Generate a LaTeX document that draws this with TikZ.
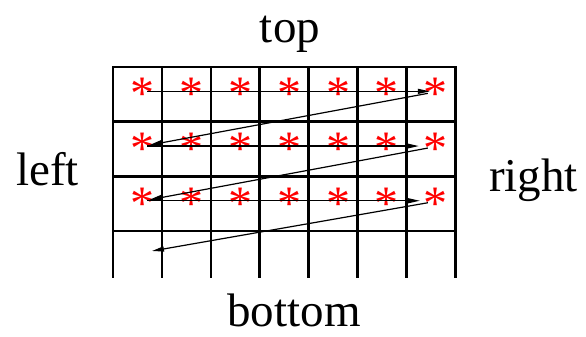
\documentclass[tikz,border=0pt]{standalone}
\usepackage{fontspec}
\setmainfont{Liberation Serif}
\usetikzlibrary{arrows.meta}

\begin{document}
\begin{tikzpicture}[x=1pt, y=-1pt,
    grid/.style={line width=2.6pt, black},
    star/.style={text=red, font=\fontsize{48}{48}\selectfont, inner sep=0pt,
                 anchor=base, yshift=-22.5pt},
    lbl/.style={font=\fontsize{47}{50}\selectfont, inner sep=0pt},
    arr/.style={-{Triangle[length=12pt, width=5pt]}, line width=1.2pt}
  ]
    \useasboundingbox (0,0) rectangle (586,337);
    % grid
    \foreach \i in {0,...,7}
      \draw[grid] (113+48.9*\i, 67) -- (113+48.9*\i, 278);
    \foreach \j in {0,...,3}
      \draw[grid, line cap=rect] (113, 67+54.7*\j) -- (455.3, 67+54.7*\j);
    % stars
    \foreach \r in {1,2,3}
      \foreach \c in {1,...,7} {
        \coordinate (p-\r-\c) at (48.9*\c+93.55, 54.7*\r+32.65);
        \node[star] (s-\r-\c) at (p-\r-\c) {*};
      }
    \coordinate (p-4-1) at (145, 248);
    % scan order
    \foreach \r/\e in {1/-6, 2/-17, 3/-16}
      \draw[arr] ([shift={(5,4)}]p-\r-1) -- ([shift={(\e,4)}]p-\r-7);
    \foreach \r/\n in {1/2, 2/3, 3/4}
      \draw[arr] ([shift={(-8,6)}]p-\r-7) -- ([shift={(7,3)}]p-\n-1);
    % labels
    \node[lbl, anchor=base] (top) at (290,43) {top};
    \node[lbl, anchor=base west] (left) at (16,185) {left};
    \node[lbl, anchor=base west] (right) at (489,191) {right};
    \node[lbl, anchor=base] (bottom) at (294,326) {bottom};
\end{tikzpicture}
\end{document}
